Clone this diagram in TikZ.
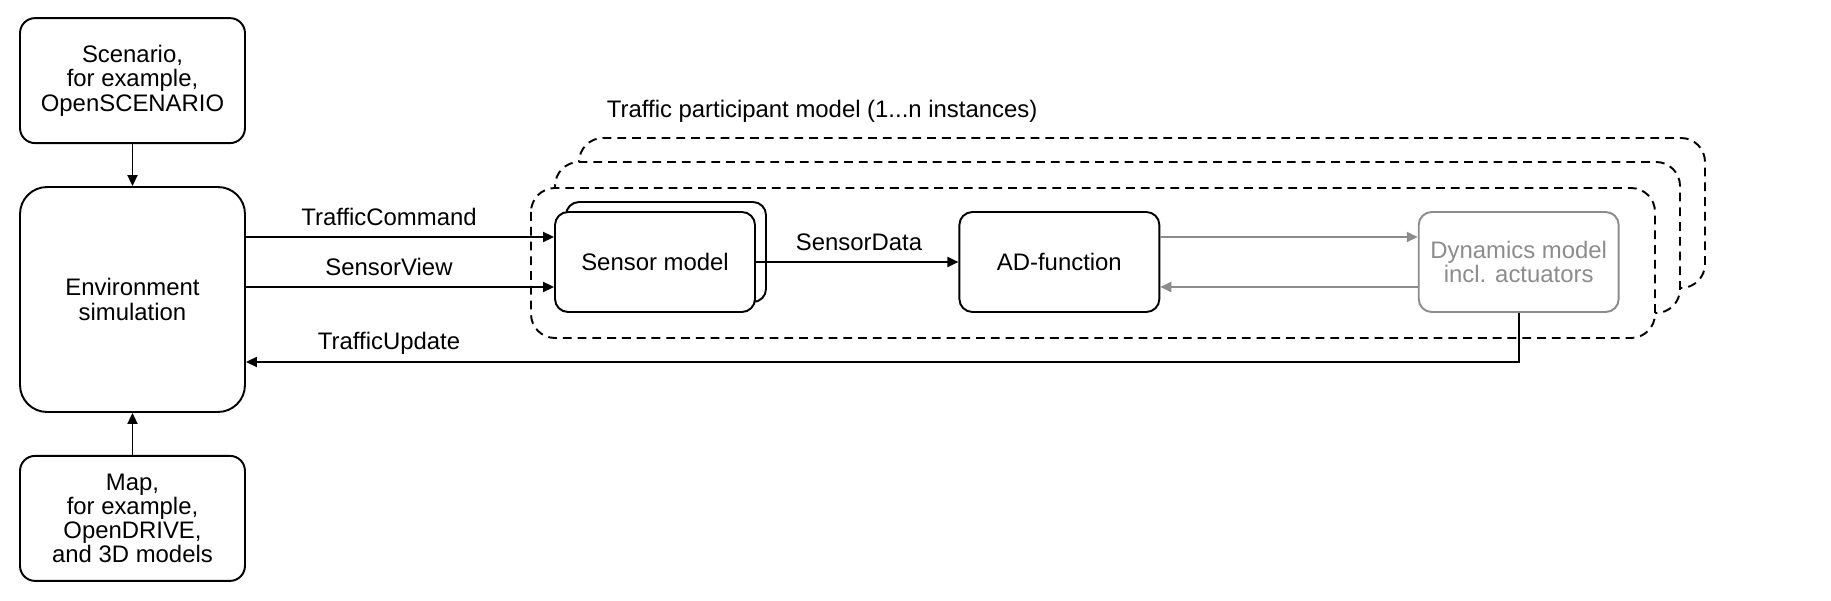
\documentclass[tikz,border=0pt]{standalone}
\usepackage{fontspec}
\setmainfont{Liberation Sans}
\usetikzlibrary{arrows.meta, calc, positioning}
\definecolor{dyngray}{gray}{0.55}
\tikzset
{%
block/.style={draw, fill=white, rounded corners=0.26cm, align=center, minimum width=4cm, minimum height=2cm},
side/.style={block, rounded corners=0.3cm, minimum width=4.5cm, minimum height=2.5cm},
envbox/.style={block, rounded corners=0.54cm, minimum width=4.5cm, minimum height=4.5cm},
dyn/.style={block, draw=dyngray, text=dyngray},
frame/.style={draw, fill=white, dash pattern=on 5pt off 3.4pt, rounded corners=0.48cm},
lbl/.style={anchor=base, inner sep=0pt}
}

\begin{document}
\begin{tikzpicture}[x=0.02cm, y=-0.02cm, line width=1.1pt, font=\fontsize{13.6}{13.8}\selectfont, >={Triangle[length=0.22cm, width=0.2cm]}]
	\useasboundingbox (0,0) rectangle (1831,601);

	% instances, back to front
	\draw[frame] (579,138) rectangle (1705,288);
	\draw[frame] (555,162) rectangle (1680,313);
	\draw[frame] (531,188) rectangle (1655,338);
	\node[lbl, anchor=base west] (title) at (606,118) {Traffic participant model (1...n instances)};

	\node[envbox] (env) at (132.5,299.5) {Environment\\simulation};
	\node[side, above=0.84cm of env] (scen) {Scenario,\\for example,\\OpenSCENARIO};
	\node[side, below=0.84cm of env] (map) {Map,\\for example,\\OpenDRIVE,\\and 3D models};

	\node[block] (sens2) at (666,252) {};
	\node[block] (sens) at (655,262) {Sensor model};
	\node[block, right=4.05cm of sens] (ad) {AD-function};
	\node[dyn, right=5.15cm of ad] (dyn) {Dynamics model\\incl. actuators};

	\coordinate (tc) at ([yshift=0.5cm]sens.west);
	\coordinate (sv) at ([yshift=-0.5cm]sens.west);
	\coordinate (tu) at ([yshift=-1.25cm]env.east);
	\coordinate (ao) at ([yshift=0.5cm]ad.east);
	\coordinate (ai) at ([yshift=-0.5cm]ad.east);

	\draw[->] (scen) -- (env);
	\draw[->] (map) -- (env);
	\draw[->] (env.east |- tc) -- (tc);
	\draw[->] (env.east |- sv) -- (sv);
	\draw[->] (sens) -- (ad);
	\draw[->, dyngray] (ao) -- (dyn.west |- ao);
	\draw[->, dyngray] (dyn.west |- ai) -- (ai);
	\draw[->] (dyn.south) |- (tu);

	\node[lbl] (ltc) at (389,225) {TrafficCommand};
	\node[lbl] (lsv) at (389,275) {SensorView};
	\node[lbl] (ltu) at (389,349) {TrafficUpdate};
	\node[lbl] (lsd) at (859,250) {SensorData};
\end{tikzpicture}
\end{document}
